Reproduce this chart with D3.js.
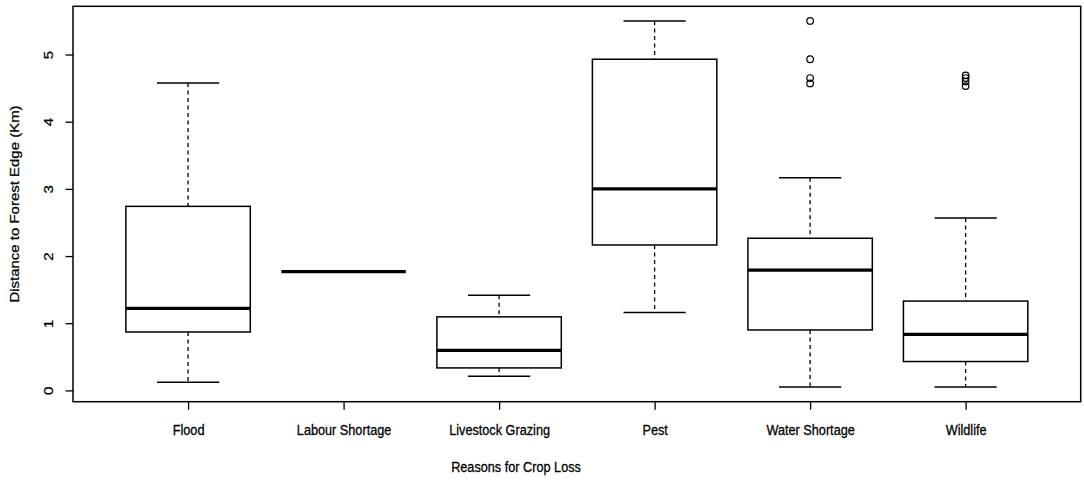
<!DOCTYPE html>
<html>
<head>
<meta charset="utf-8">
<script src="https://cdn.jsdelivr.net/npm/d3@7"></script>
<style>
    body { margin: 0; background: #fff; }
    svg text { font-family: "Liberation Sans", Arial, sans-serif; fill: #000; stroke: #000; stroke-width: 0.25px; }
</style>
</head>
<body>
<svg id="chart" width="1084" height="482"></svg>
<script>
// Box plot stats (km)
var categories = ['Flood', 'Labour Shortage', 'Livestock Grazing', 'Pest', 'Water Shortage', 'Wildlife'];
var lowerWhisker = [0.12, 1.767, 0.21, 1.16, 0.05, 0.05];
var q1 = [0.87, 1.767, 0.335, 2.165, 0.90, 0.43];
var median = [1.22, 1.767, 0.595, 3.0, 1.79, 0.835];
var q3 = [2.74, 1.767, 1.095, 4.93, 2.265, 1.33];
var upperWhisker = [4.575, 1.767, 1.415, 5.5, 3.165, 2.565];
var outliers = [[], [], [], [], [5.5, 4.93, 4.65, 4.57], [4.69, 4.65, 4.6, 4.53]];
var yTicks = [0, 1, 2, 3, 4, 5];
var xTitle = 'Reasons for Crop Loss';
var yTitle = 'Distance to Forest Edge (Km)';

var svg = d3.select('#chart');
var plot = { left: 73, right: 1080.7, top: 6.3, bottom: 401.7 };
// text in the original is a little stretched vertically
var stretch = 1.18;
var fontSize = 12.7;

// R style 4% padding on both axes
var n = categories.length;
var allVals = lowerWhisker.concat(upperWhisker, d3.merge(outliers));
var lo = d3.min(allVals), hi = d3.max(allVals);
var pad = (hi - lo) * 0.04;
var yScale = d3.scaleLinear()
    .domain([lo - pad, hi + pad])
    .range([plot.bottom, plot.top]);
var xPad = n * 0.04;
var xScale = d3.scaleLinear()
    .domain([0.5 - xPad, n + 0.5 + xPad])
    .range([plot.left, plot.right]);

var boxW = xScale(1.4) - xScale(1);   // half box width (0.4 units)
var capW = boxW / 2;

var data = categories.map(function(c, i) {
    return { name: c, pos: i + 1, lw: lowerWhisker[i], q1: q1[i], med: median[i],
             q3: q3[i], uw: upperWhisker[i], out: outliers[i] };
});

var boxes = svg.append('g').selectAll('g')
    .data(data)
    .enter()
    .append('g');

// dashed whiskers
boxes.append('line')
    .attr('x1', function(d) { return xScale(d.pos); })
    .attr('x2', function(d) { return xScale(d.pos); })
    .attr('y1', function(d) { return yScale(d.uw); })
    .attr('y2', function(d) { return yScale(d.q3); })
    .attr('stroke', '#000').attr('stroke-width', 1.3).attr('stroke-dasharray', '4,3.5');
boxes.append('line')
    .attr('x1', function(d) { return xScale(d.pos); })
    .attr('x2', function(d) { return xScale(d.pos); })
    .attr('y1', function(d) { return yScale(d.q1); })
    .attr('y2', function(d) { return yScale(d.lw); })
    .attr('stroke', '#000').attr('stroke-width', 1.3).attr('stroke-dasharray', '4,3.5');

// caps
['uw', 'lw'].forEach(function(k) {
    boxes.append('line')
        .attr('x1', function(d) { return xScale(d.pos) - capW; })
        .attr('x2', function(d) { return xScale(d.pos) + capW; })
        .attr('y1', function(d) { return yScale(d[k]); })
        .attr('y2', function(d) { return yScale(d[k]); })
        .attr('stroke', '#000').attr('stroke-width', 1.5);
});

// box
boxes.append('rect')
    .attr('x', function(d) { return xScale(d.pos) - boxW; })
    .attr('width', boxW * 2)
    .attr('y', function(d) { return yScale(d.q3); })
    .attr('height', function(d) { return yScale(d.q1) - yScale(d.q3); })
    .attr('fill', 'none')
    .attr('stroke', '#000').attr('stroke-width', 1.5);

// median
boxes.append('line')
    .attr('x1', function(d) { return xScale(d.pos) - boxW; })
    .attr('x2', function(d) { return xScale(d.pos) + boxW; })
    .attr('y1', function(d) { return yScale(d.med); })
    .attr('y2', function(d) { return yScale(d.med); })
    .attr('stroke', '#000').attr('stroke-width', 3.2);

// outliers
boxes.selectAll('circle')
    .data(function(d) { return d.out.map(function(v) { return { pos: d.pos, v: v }; }); })
    .enter()
    .append('circle')
    .attr('cx', function(d) { return xScale(d.pos); })
    .attr('cy', function(d) { return yScale(d.v); })
    .attr('r', 3.3)
    .attr('fill', 'none')
    .attr('stroke', '#000').attr('stroke-width', 1.2);

// frame
svg.append('rect')
    .attr('x', plot.left).attr('y', plot.top)
    .attr('width', plot.right - plot.left)
    .attr('height', plot.bottom - plot.top)
    .attr('fill', 'none').attr('stroke', '#000').attr('stroke-width', 1.5);

// y axis
var yAxis = svg.append('g')
    .attr('transform', 'translate(' + plot.left + ',0)')
    .call(d3.axisLeft(yScale).tickValues(yTicks).tickSize(7.5).tickFormat(d3.format('d')));
yAxis.select('.domain').remove();
yAxis.selectAll('line').attr('stroke', '#000').attr('stroke-width', 1.3);
yAxis.selectAll('text')
    .attr('x', null).attr('dy', null)
    .attr('text-anchor', 'middle')
    .style('font-size', fontSize + 'px')
    .attr('transform', 'translate(-20,0) scale(1,' + stretch + ') rotate(-90)');

// x axis
var xAxis = svg.append('g')
    .attr('transform', 'translate(0,' + plot.bottom + ')')
    .call(d3.axisBottom(xScale).tickValues(d3.range(1, n + 1)).tickSize(8)
        .tickFormat(function(d) { return categories[d - 1]; }));
xAxis.select('.domain').remove();
xAxis.selectAll('line').attr('stroke', '#000').attr('stroke-width', 1.3);
xAxis.selectAll('text')
    .attr('y', null).attr('dy', null)
    .style('font-size', fontSize + 'px')
    .attr('transform', 'translate(0,33.3) scale(1,' + stretch + ')');

// axis titles
svg.append('text')
    .attr('text-anchor', 'middle')
    .style('font-size', fontSize + 'px')
    .attr('transform', 'translate(516,471.7) scale(1,' + stretch + ')')
    .text(xTitle);
svg.append('text')
    .attr('text-anchor', 'middle')
    .style('font-size', fontSize + 'px')
    .attr('transform', 'translate(18.5,' + (plot.top + plot.bottom) / 2 + ') scale(1,' + stretch + ') rotate(-90)')
    .text(yTitle);
</script>
</body>
</html>
